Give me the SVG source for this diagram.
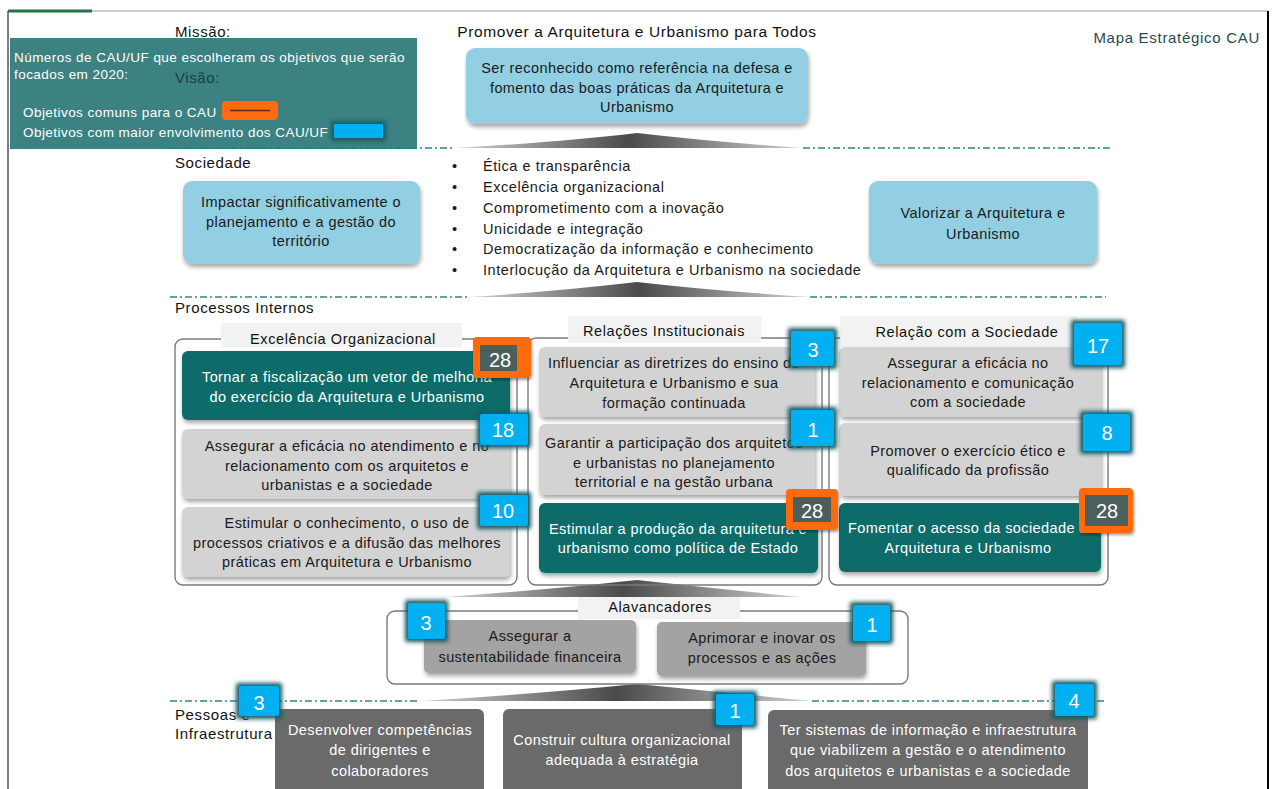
<svg xmlns="http://www.w3.org/2000/svg" width="1275" height="789" viewBox="0 0 1275 789">
<defs>
<style>
text{font-family:"Liberation Sans",Arial,sans-serif;}
.t14{font-size:14.5px;fill:#1a1a1a;letter-spacing:0.42px;}
.tw{font-size:14.5px;fill:#ffffff;letter-spacing:0.42px;}
.lbl{font-size:15px;fill:#111;letter-spacing:0.6px;}
.hdr{font-size:14.5px;fill:#111;text-anchor:middle;letter-spacing:0.6px;}
.lg{font-size:13.5px;fill:#fff;letter-spacing:0.45px;}
.c{text-anchor:middle;}
.num{font-size:20px;fill:#ffffff;text-anchor:middle;}
.blue{fill:#92cfe3;}
.teal{fill:#0e6c69;}
.lgray{fill:#d3d3d3;}
.mgray{fill:#a3a3a3;}
.dgray{fill:#6a6a6a;}
.frame{fill:none;stroke:#7a7a7a;stroke-width:1.4;}
.hbg{fill:#f2f2f2;}
.dash{stroke:#2f8585;stroke-width:1.6;stroke-dasharray:7 3 2 3;fill:none;}
.cyan{fill:#00b0f0;}
.org{fill:#ff6a10;}
.slate{fill:#4b5f5f;}
</style>
<linearGradient id="tri" x1="0" y1="0" x2="1" y2="0">
<stop offset="0" stop-color="#d0d0d0"/>
<stop offset="0.5" stop-color="#4a4a4a"/>
<stop offset="1" stop-color="#d0d0d0"/>
</linearGradient>
<filter id="sh" x="-10%" y="-10%" width="125%" height="135%">
<feGaussianBlur in="SourceAlpha" stdDeviation="2"/>
<feOffset dx="1" dy="3" result="o"/>
<feComponentTransfer><feFuncA type="linear" slope="0.35"/></feComponentTransfer>
<feMerge><feMergeNode/><feMergeNode in="SourceGraphic"/></feMerge>
</filter>
<filter id="glow" x="-50%" y="-50%" width="200%" height="200%">
<feMorphology in="SourceAlpha" operator="dilate" radius="3" result="d"/>
<feGaussianBlur in="d" stdDeviation="2" result="b"/>
<feFlood flood-color="#175a62"/>
<feComposite in2="b" operator="in" result="g"/>
<feMerge><feMergeNode in="g"/><feMergeNode in="SourceGraphic"/></feMerge>
</filter>
<filter id="oglow" x="-30%" y="-30%" width="160%" height="160%">
<feGaussianBlur in="SourceAlpha" stdDeviation="1.5"/>
<feOffset dx="1" dy="2"/>
<feComponentTransfer><feFuncA type="linear" slope="0.4"/></feComponentTransfer>
<feMerge><feMergeNode/><feMergeNode in="SourceGraphic"/></feMerge>
</filter>
</defs>
<rect width="1275" height="789" fill="#ffffff"/>
<g id="sheet-frame">
<line x1="8" y1="11" x2="1268" y2="11" stroke="#bdbdbd" stroke-width="1.5"/>
<line x1="8" y1="11" x2="92" y2="11" stroke="#217346" stroke-width="3"/>
<line x1="8" y1="11" x2="8" y2="789" stroke="#555" stroke-width="1.5"/>
<line x1="1268" y1="11" x2="1268" y2="789" stroke="#000" stroke-width="2"/>
</g>
<g id="connectors">
<path d="M455,148 Q560,142 637,133 Q715,142 803,148 Z" fill="url(#tri)"/>
<path d="M470,297 Q560,291 637,282 Q715,291 810,297 Z" fill="url(#tri)"/>
<path d="M445,597 Q545,590 637,580 Q730,590 800,597 Z" fill="url(#tri)"/>
<path d="M420,701 Q535,694 637,684 Q740,694 812,701 Z" fill="url(#tri)"/>
<line class="dash" x1="170" y1="148" x2="455" y2="148"/>
<line class="dash" x1="803" y1="148" x2="1113" y2="148"/>
<line class="dash" x1="170" y1="297" x2="470" y2="297"/>
<line class="dash" x1="810" y1="297" x2="1106" y2="297"/>
<line class="dash" x1="170" y1="701" x2="420" y2="701"/>
<line class="dash" x1="812" y1="701" x2="1106" y2="701"/>
</g>
<g id="legend">
<rect x="10" y="38" width="407" height="111" fill="#2b7777" fill-opacity="0.92"/>
<text class="lg" x="14" y="62">Números de CAU/UF que escolheram os objetivos que serão</text>
<text class="lg" x="14" y="79">focados em 2020:</text>
<text class="lg" x="23" y="117">Objetivos comuns para o  CAU</text>
<text class="lg" x="23" y="137">Objetivos com maior envolvimento dos CAU/UF</text>
<rect x="222" y="101" width="56" height="19" rx="4" class="org"/>
<line x1="230" y1="110.5" x2="270" y2="110.5" stroke="#5e2a0e" stroke-width="1.5"/>
<rect x="334" y="124" width="49" height="14" class="cyan" filter="url(#glow)"/>
</g>
<g id="section-labels">
<text class="lbl" x="175" y="37">Missão:</text>
<text class="lbl" x="175" y="83" style="fill:#163f3f">Visão:</text>
<text class="lbl" x="175" y="168">Sociedade</text>
<text class="lbl" x="175" y="313">Processos Internos</text>
<text class="lbl" x="175" y="720">Pessoas e</text>
<text class="lbl" x="175" y="739">Infraestrutura</text>
<text x="1260" y="43" style="font-size:15px;fill:#1f4a55;text-anchor:end;letter-spacing:0.7px">Mapa Estratégico CAU</text>
<text x="637" y="37" style="font-size:15.5px;fill:#111;text-anchor:middle;letter-spacing:0.6px">Promover a Arquitetura e Urbanismo para Todos</text>
</g>
<g id="vision">
<rect x="466" y="48" width="342" height="76" rx="9" class="blue" filter="url(#sh)"/>
<text class="t14 c"><tspan x="637" y="73">Ser reconhecido como referência na defesa e</tspan><tspan x="637" y="93">fomento das boas práticas da Arquitetura e</tspan><tspan x="637" y="112">Urbanismo</tspan></text>
</g>
<g id="soc-impactar">
<rect x="183" y="181" width="237" height="83" rx="9" class="blue" filter="url(#sh)"/>
<text class="t14 c"><tspan x="301" y="207">Impactar significativamente o</tspan><tspan x="301" y="227">planejamento e a gestão do</tspan><tspan x="301" y="246">território</tspan></text>
</g>
<g id="values">
<text class="t14"><tspan x="452" y="171">•</tspan><tspan x="452" y="192">•</tspan><tspan x="452" y="213">•</tspan><tspan x="452" y="234">•</tspan><tspan x="452" y="254">•</tspan><tspan x="452" y="275">•</tspan></text>
<text class="t14" style="letter-spacing:0.55px"><tspan x="483" y="171">Ética e transparência</tspan><tspan x="483" y="192">Excelência organizacional</tspan><tspan x="483" y="213">Comprometimento com a inovação</tspan><tspan x="483" y="234">Unicidade e integração</tspan><tspan x="483" y="254">Democratização da informação e conhecimento</tspan><tspan x="483" y="275">Interlocução da Arquitetura e Urbanismo na sociedade</tspan></text>
</g>
<g id="soc-valorizar">
<rect x="869" y="181" width="228" height="83" rx="9" class="blue" filter="url(#sh)"/>
<text class="t14 c"><tspan x="983" y="218">Valorizar a Arquitetura e</tspan><tspan x="983" y="239">Urbanismo</tspan></text>
</g>
<g id="grp-excelencia">
<rect x="175" y="339" width="342" height="246" rx="8" class="frame"/>
<rect x="221" y="323" width="241" height="24" class="hbg"/>
<text class="hdr" x="343" y="344">Excelência Organizacional</text>
</g>
<g id="pi-fiscalizacao">
<rect x="182" y="351" width="328" height="69" rx="6" class="teal" filter="url(#sh)"/>
<text class="tw c"><tspan x="347" y="382">Tornar a fiscalização um vetor de melhoria</tspan><tspan x="347" y="402">do exercício da Arquitetura e Urbanismo</tspan></text>
</g>
<g id="pi-atendimento">
<rect x="182" y="429" width="328" height="70" rx="6" class="lgray" filter="url(#sh)"/>
<text class="t14 c"><tspan x="347" y="451">Assegurar a eficácia no atendimento e no</tspan><tspan x="347" y="471">relacionamento com os arquitetos e</tspan><tspan x="347" y="490">urbanistas e a sociedade</tspan></text>
</g>
<g id="pi-conhecimento">
<rect x="182" y="507" width="328" height="70" rx="6" class="lgray" filter="url(#sh)"/>
<text class="t14 c"><tspan x="347" y="528">Estimular o conhecimento, o uso de</tspan><tspan x="347" y="548">processos criativos e a difusão das melhores</tspan><tspan x="347" y="567">práticas em Arquitetura e Urbanismo</tspan></text>
</g>
<g id="grp-relacoes">
<rect x="528" y="338" width="294" height="247" rx="8" class="frame"/>
<rect x="568" y="316" width="193" height="27" class="hbg"/>
<text class="hdr" x="664" y="336">Relações Institucionais</text>
</g>
<g id="pi-ensino">
<rect x="539" y="347" width="276" height="70" rx="6" class="lgray" filter="url(#sh)"/>
<text class="t14 c"><tspan x="674" y="368">Influenciar as diretrizes do ensino de</tspan><tspan x="674" y="388">Arquitetura e Urbanismo e sua</tspan><tspan x="674" y="408">formação continuada</tspan></text>
</g>
<g id="pi-participacao">
<rect x="539" y="424" width="276" height="71" rx="6" class="lgray" filter="url(#sh)"/>
<text class="t14 c"><tspan x="674" y="448">Garantir a participação dos arquitetos</tspan><tspan x="674" y="468">e urbanistas no planejamento</tspan><tspan x="674" y="487">territorial e na gestão urbana</tspan></text>
</g>
<g id="pi-producao">
<rect x="539" y="503" width="279" height="70" rx="6" class="teal" filter="url(#sh)"/>
<text class="tw c"><tspan x="678" y="534">Estimular a produção da arquitetura e</tspan><tspan x="678" y="553">urbanismo como política de Estado</tspan></text>
</g>
<g id="grp-sociedade">
<rect x="829" y="338" width="279" height="247" rx="8" class="frame"/>
<rect x="840" y="316" width="237" height="31" class="hbg"/>
<text class="hdr" x="967" y="337">Relação com a Sociedade</text>
</g>
<g id="pi-comunicacao">
<rect x="839" y="347" width="262" height="70" rx="6" class="lgray" filter="url(#sh)"/>
<text class="t14 c"><tspan x="968" y="368">Assegurar a eficácia no</tspan><tspan x="968" y="388">relacionamento e comunicação</tspan><tspan x="968" y="407">com a sociedade</tspan></text>
</g>
<g id="pi-etico">
<rect x="839" y="423" width="262" height="73" rx="6" class="lgray" filter="url(#sh)"/>
<text class="t14 c"><tspan x="968" y="456">Promover o exercício ético e</tspan><tspan x="968" y="475">qualificado da profissão</tspan></text>
</g>
<g id="pi-acesso">
<rect x="839" y="503" width="262" height="69" rx="6" class="teal" filter="url(#sh)"/>
<text class="tw c"><tspan x="968" y="533">Fomentar o acesso da sociedade à</tspan><tspan x="968" y="553">Arquitetura e Urbanismo</tspan></text>
</g>
<g id="grp-alavancadores">
<rect x="387" y="611" width="521" height="73" rx="8" class="frame"/>
<rect x="578" y="597" width="162" height="22" class="hbg"/>
<text class="hdr" x="660" y="612">Alavancadores</text>
</g>
<g id="al-sustentabilidade">
<rect x="424" y="620" width="212" height="53" rx="5" class="mgray" filter="url(#sh)"/>
<text class="t14 c"><tspan x="530" y="641">Assegurar a</tspan><tspan x="530" y="662">sustentabilidade financeira</tspan></text>
</g>
<g id="al-processos">
<rect x="657" y="622" width="209" height="54" rx="5" class="mgray" filter="url(#sh)"/>
<text class="t14 c"><tspan x="762" y="643">Aprimorar e inovar os</tspan><tspan x="762" y="663">processos e as ações</tspan></text>
</g>
<g id="pe-competencias">
<rect x="275" y="709" width="209" height="90" rx="6" class="dgray"/>
<text class="tw c"><tspan x="380" y="735">Desenvolver competências</tspan><tspan x="380" y="755">de dirigentes e</tspan><tspan x="380" y="776">colaboradores</tspan></text>
</g>
<g id="pe-cultura">
<rect x="503" y="709" width="239" height="90" rx="6" class="dgray"/>
<text class="tw c"><tspan x="622" y="745">Construir cultura organizacional</tspan><tspan x="622" y="765">adequada à estratégia</tspan></text>
</g>
<g id="pe-sistemas">
<rect x="768" y="710" width="320" height="90" rx="6" class="dgray"/>
<text class="tw c"><tspan x="928" y="735">Ter sistemas de informação e infraestrutura</tspan><tspan x="928" y="755">que viabilizem a gestão e o atendimento</tspan><tspan x="928" y="776">dos arquitetos e urbanistas e a sociedade</tspan></text>
</g>
<g id="badges">
<g id="b-fiscalizacao"><rect x="473" y="337" width="58" height="41" rx="4" class="org" filter="url(#oglow)"/><rect x="480" y="345" width="37" height="26" class="slate"/><text class="num" x="500" y="367">28</text></g>
<g id="b-atendimento"><rect x="480" y="414" width="48" height="31" rx="2" class="cyan" filter="url(#glow)"/><text class="num" x="503" y="437">18</text></g>
<g id="b-conhecimento"><rect x="480" y="495" width="48" height="31" rx="2" class="cyan" filter="url(#glow)"/><text class="num" x="503" y="518">10</text></g>
<g id="b-ensino"><rect x="791" y="331" width="43" height="35" rx="2" class="cyan" filter="url(#glow)"/><text class="num" x="813" y="357">3</text></g>
<g id="b-participacao"><rect x="791" y="410" width="43" height="36" rx="2" class="cyan" filter="url(#glow)"/><text class="num" x="813" y="437">1</text></g>
<g id="b-producao"><rect x="786" y="489" width="52" height="41" rx="4" class="org" filter="url(#oglow)"/><rect x="793" y="497" width="38" height="25" class="slate"/><text class="num" x="812" y="518">28</text></g>
<g id="b-comunicacao"><rect x="1074" y="323" width="48" height="42" rx="2" class="cyan" filter="url(#glow)"/><text class="num" x="1098" y="353">17</text></g>
<g id="b-etico"><rect x="1083" y="414" width="47" height="37" rx="2" class="cyan" filter="url(#glow)"/><text class="num" x="1107" y="440">8</text></g>
<g id="b-acesso"><rect x="1079" y="488" width="54" height="45" rx="4" class="org" filter="url(#oglow)"/><rect x="1085" y="495" width="43" height="31" class="slate"/><text class="num" x="1107" y="518">28</text></g>
<g id="b-sustentabilidade"><rect x="408" y="603" width="37" height="36" rx="2" class="cyan" filter="url(#glow)"/><text class="num" x="426" y="630">3</text></g>
<g id="b-processos"><rect x="853" y="605" width="37" height="36" rx="2" class="cyan" filter="url(#glow)"/><text class="num" x="872" y="632">1</text></g>
<g id="b-competencias"><rect x="239" y="686" width="40" height="30" rx="2" class="cyan" filter="url(#glow)"/><text class="num" x="259" y="710">3</text></g>
<g id="b-cultura"><rect x="716" y="694" width="38" height="31" rx="2" class="cyan" filter="url(#glow)"/><text class="num" x="735" y="718">1</text></g>
<g id="b-sistemas"><rect x="1055" y="684" width="39" height="32" rx="2" class="cyan" filter="url(#glow)"/><text class="num" x="1074" y="708">4</text></g>
</g>
</svg>
